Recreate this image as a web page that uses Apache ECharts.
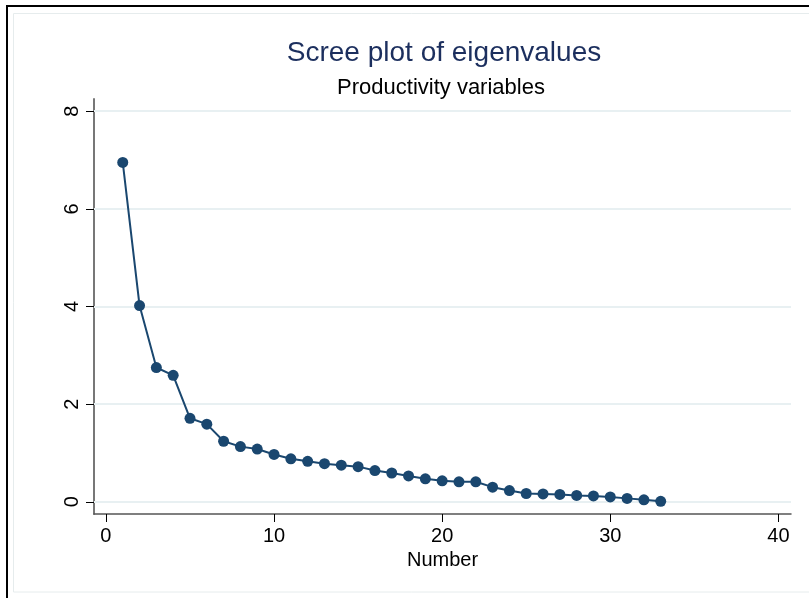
<!DOCTYPE html>
<html>
<head>
<meta charset="utf-8">
<script src="https://cdn.jsdelivr.net/npm/echarts@6/dist/echarts.min.js"></script>
<style>
  html, body { margin: 0; padding: 0; background: #fff; }
  #chart { width: 809px; height: 598px; }
</style>
</head>
<body>
<div id="chart"></div>
<script>
// component number and eigenvalue
const numbers = [1, 2, 3, 4, 5, 6, 7, 8, 9, 10, 11, 12, 13, 14, 15, 16, 17,
  18, 19, 20, 21, 22, 23, 24, 25, 26, 27, 28, 29, 30, 31, 32, 33];
const eigenvalues = [6.95, 4.02, 2.75, 2.59, 1.71, 1.59, 1.24, 1.13, 1.08, 0.97,
  0.88, 0.83, 0.78, 0.75, 0.72, 0.64, 0.59, 0.53, 0.47, 0.43, 0.41, 0.41,
  0.30, 0.23, 0.17, 0.16, 0.15, 0.13, 0.12, 0.10, 0.07, 0.04, 0.01];
const xTicks = [0, 10, 20, 30, 40];
const yTicks = [0, 2, 4, 6, 8];

const titleText = 'Scree plot of eigenvalues';
const subtitleText = 'Productivity variables';
const xName = 'Number';

const font = 'Liberation Sans, Arial, sans-serif';
const navy = '#1a476f';

const chart = echarts.init(document.getElementById('chart'));
chart.setOption({
  backgroundColor: '#fff',
  animation: false,
  title: [
    {
      text: titleText,
      left: 439,
      top: 34,
      textAlign: 'center',
      textStyle: { color: '#1c2f5e', fontFamily: font, fontWeight: 'normal', fontSize: 28 },
    },
    {
      text: subtitleText,
      left: 436,
      top: 72,
      textAlign: 'center',
      textStyle: { color: '#000', fontFamily: font, fontWeight: 'normal', fontSize: 22 },
    },
  ],
  graphic: [
    // outer dark frame (left and top) and light inner frame
    { type: 'rect', shape: { x: 6, y: 5, width: 2, height: 593 }, style: { fill: '#000' } },
    { type: 'rect', shape: { x: 6, y: 5, width: 803, height: 2 }, style: { fill: '#000' } },
    {
      type: 'rect',
      shape: { x: 13.5, y: 13.5, width: 820, height: 578.5 },
      style: { fill: 'none', stroke: '#e6eced', lineWidth: 1 },
      silent: true,
    },
  ],
  grid: { left: 94, right: 18, top: 99, bottom: 84 },
  xAxis: {
    type: 'value',
    min: -0.71,
    max: 40.75,
    name: xName,
    nameLocation: 'middle',
    nameGap: 33,
    nameTextStyle: { color: '#000', fontFamily: font, fontSize: 20 },
    axisLine: { show: true, onZero: false, lineStyle: { color: '#555', width: 1.5 } },
    axisTick: { show: true, length: 8, customValues: xTicks, lineStyle: { color: '#000' } },
    axisLabel: { customValues: xTicks, margin: 12, color: '#000', fontFamily: font, fontSize: 20 },
    splitLine: { show: false },
  },
  yAxis: {
    type: 'value',
    min: -0.25,
    max: 8.25,
    axisLine: { show: true, onZero: false, lineStyle: { color: '#777', width: 2 } },
    axisTick: { show: true, length: 8, customValues: yTicks, lineStyle: { color: '#000' } },
    axisLabel: { customValues: yTicks, rotate: 90, margin: 12, color: '#000', fontFamily: font, fontSize: 20 },
    splitLine: { show: false },
  },
  series: [
    {
      type: 'line',
      data: numbers.map((n, i) => [n, eigenvalues[i]]),
      symbol: 'circle',
      symbolSize: 11,
      itemStyle: { color: navy },
      lineStyle: { color: navy, width: 2 },
      z: 3,
      markLine: {
        silent: true,
        symbol: 'none',
        label: { show: false },
        lineStyle: { color: '#e8f0f2', width: 2, type: 'solid' },
        data: yTicks.map(v => ({ yAxis: v })),
        z: 1,
      },
    },
  ],
});
</script>
</body>
</html>
